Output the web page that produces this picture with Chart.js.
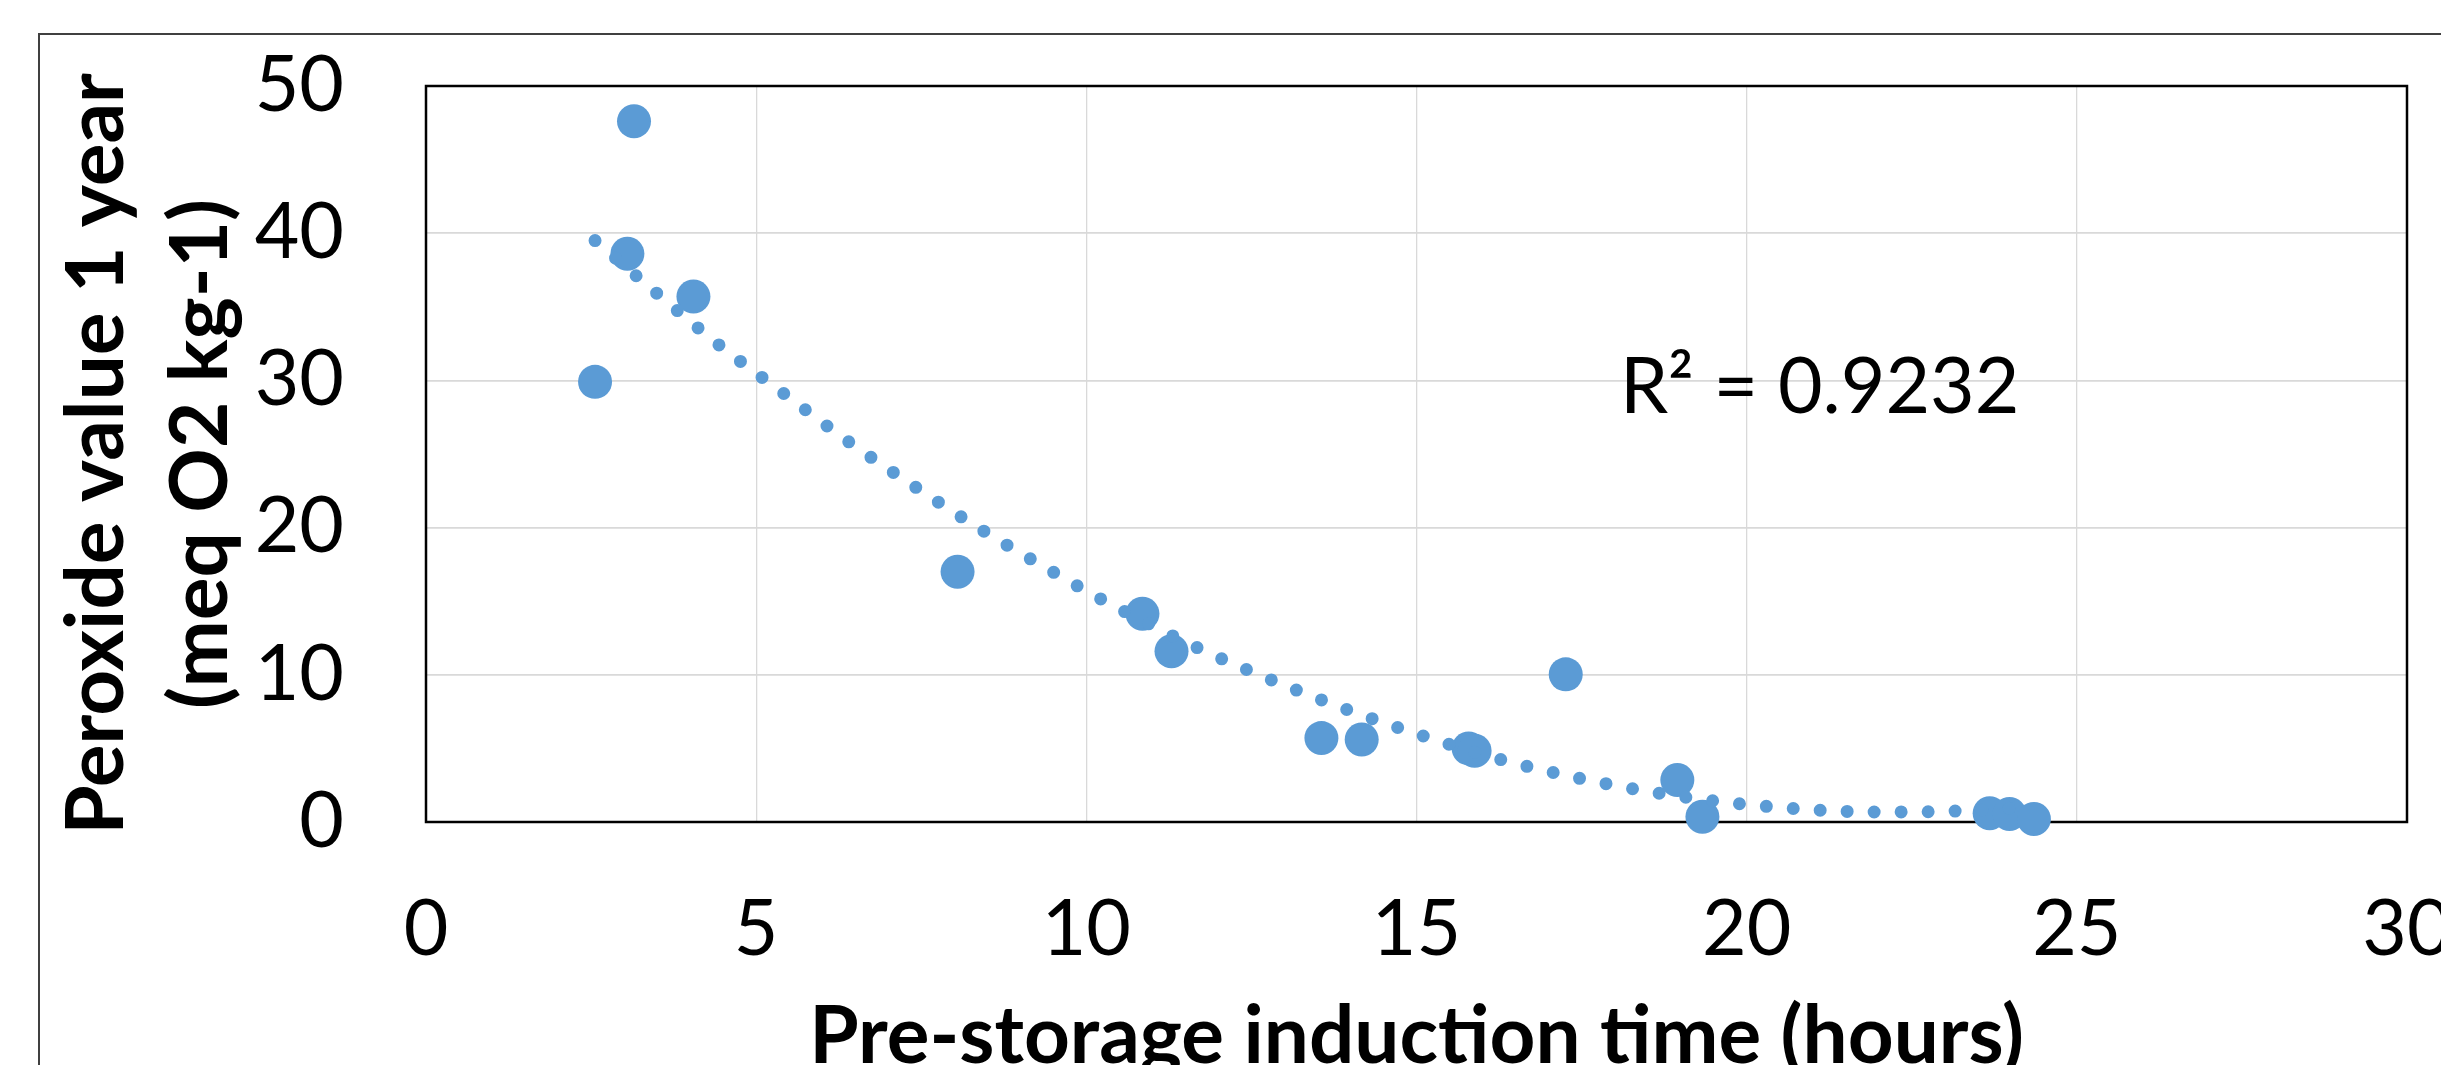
<!DOCTYPE html>
<html>
<head>
<meta charset="utf-8">
<title>Peroxide value vs induction time</title>
<script src="https://cdn.jsdelivr.net/npm/chart.js@4.4.1/dist/chart.umd.min.js"></script>
<style>
  html, body { margin: 0; padding: 0; background: #fff; overflow: hidden; }
  #frame {
    position: absolute; left: 38px; top: 33px; width: 2500px; height: 1100px;
    border-left: 2px solid #404040; border-top: 2px solid #404040;
  }
  #wrap { position: absolute; left: 0; top: 0; width: 2460px; height: 1100px; }
</style>
</head>
<body>
<div id="frame"></div>
<div id="wrap"><canvas id="peroxideChart"></canvas></div>
<script>
const inductionTime = [2.56, 3.05, 3.15, 4.05, 8.05, 10.85, 11.29, 13.56, 14.17, 15.79, 15.88, 17.26, 18.95, 19.33, 23.68, 23.98, 24.35];
const peroxide1y = [29.9, 38.6, 47.6, 35.7, 17.0, 14.15, 11.6, 5.7, 5.6, 5.0, 4.84, 10.03, 2.85, 0.36, 0.59, 0.54, 0.2];

// dotted trendline, points
const trendX = [2.56, 3.5, 4.44, 5.42, 6.41, 7.43, 8.47, 9.53, 10.24, 11.7, 12.83, 13.97, 15.13, 16.31, 17.5, 18.72, 19.93, 21.15, 21.97, 22.8, 23.7, 24.35];
const trendY = [39.5, 35.9, 32.4, 29.1, 25.8, 22.7, 19.7, 16.9, 15.1, 11.8, 9.6, 7.6, 5.8, 4.2, 2.94, 1.92, 1.22, 0.79, 0.68, 0.70, 0.85, 1.05];

// axis ticks
const xTicks = [0, 5, 10, 15, 20, 25, 30];
const yTicks = [0, 10, 20, 30, 40, 50];

const rSquared = '0.9232';

const blue = '#5B9BD5';

// plot frame + R² label
const plotFrame = {
  id: 'plotFrame',
  beforeDatasetsDraw(chart) {
    const { ctx, chartArea: a } = chart;
    ctx.save();
    ctx.strokeStyle = '#000';
    ctx.lineWidth = 2.5;
    ctx.strokeRect(a.left, a.top, a.right - a.left, a.bottom - a.top);
    ctx.restore();
  },
  afterDraw(chart) {
    const { ctx, scales } = chart;
    ctx.save();
    ctx.font = '77px Lato';
    ctx.fillStyle = '#000';
    ctx.textAlign = 'left';
    ctx.textBaseline = 'alphabetic';
    ctx.fillText('R\u00B2 = ' + rSquared, scales.x.getPixelForValue(18.08), scales.y.getPixelForValue(27.8));
    ctx.restore();
  }
};

// plotting graph
const ctx = document.getElementById('peroxideChart').getContext('2d');
new Chart(ctx, {
  type: 'scatter',
  data: {
    datasets: [
      {
        label: 'Trend',
        type: 'line',
        data: trendX.map((x, i) => ({ x: x, y: trendY[i] })),
        borderColor: blue,
        borderWidth: 13,
        borderDash: [0, 27],
        borderCapStyle: 'round',
        cubicInterpolationMode: 'monotone',
        pointRadius: 0,
        fill: false,
        clip: false
      },
      {
        label: 'Peroxide value 1 year',
        data: inductionTime.map((x, i) => ({ x: x, y: peroxide1y[i] })),
        backgroundColor: blue,
        borderWidth: 0,
        pointRadius: 17,
        clip: false
      }
    ]
  },
  options: {
    responsive: true,
    maintainAspectRatio: false,
    animation: false,
    events: [],
    layout: { padding: { top: 86, right: 53, left: 0, bottom: 0 } },
    plugins: {
      legend: { display: false },
      tooltip: { enabled: false }
    },
    scales: {
      x: {
        type: 'linear',
        min: 0,
        max: 30,
        afterBuildTicks: s => { s.ticks = xTicks.map(v => ({ value: v })); },
        // fixed band under the plot, no extra side margins
        afterFit: s => { s.height = 1100 - 822; s.paddingLeft = 0; s.paddingRight = 0; },
        grid: { color: '#d9d9d9', lineWidth: 1.3, drawTicks: false },
        border: { display: false },
        ticks: { color: '#000', padding: 62, font: { family: 'Lato', size: 77, lineHeight: 1.2 } },
        title: {
          display: true,
          text: 'Pre-storage induction time (hours)',
          color: '#000',
          padding: { top: 0, bottom: 11 },
          font: { family: 'Lato', size: 80, weight: 'bold', lineHeight: 1.3 }
        }
      },
      y: {
        min: 0,
        max: 50,
        afterBuildTicks: s => { s.ticks = yTicks.map(v => ({ value: v })); },
        afterFit: s => { s.width = 426; s.paddingTop = 0; s.paddingBottom = 0; },
        grid: { color: '#d9d9d9', lineWidth: 1.8, drawTicks: false },
        border: { display: false },
        ticks: { color: '#000', padding: 82, font: { family: 'Lato', size: 77, lineHeight: 1.2 } },
        title: {
          display: true,
          text: ['Peroxide value 1 year', '(meq O2 kg-1)'],
          color: '#000',
          padding: { top: 45, bottom: 0 },
          font: { family: 'Lato', size: 80, weight: 'bold', lineHeight: 1.3 }
        }
      }
    }
  },
  plugins: [plotFrame]
});
</script>
</body>
</html>
